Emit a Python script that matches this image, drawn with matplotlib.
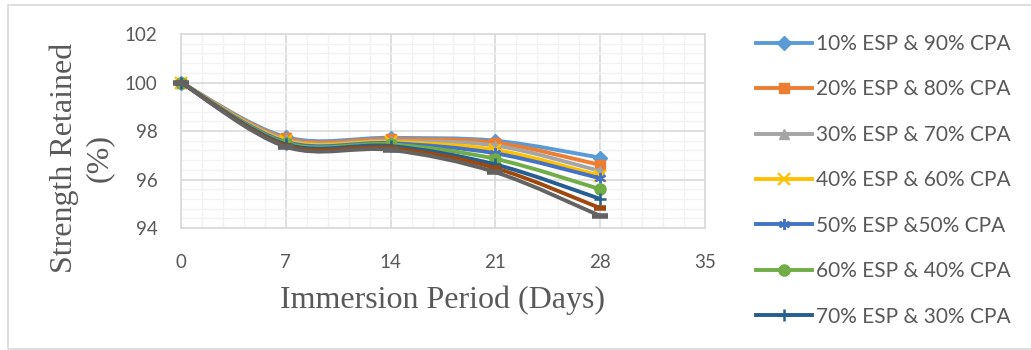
import numpy as np
import matplotlib
matplotlib.use("Agg")
import matplotlib.pyplot as plt
from matplotlib.path import Path
from matplotlib.patches import PathPatch, Rectangle
from matplotlib.lines import Line2D

# Data
days = [0, 7, 14, 21, 28]
labels = ["10% ESP & 90% CPA", "20% ESP & 80% CPA", "30% ESP & 70% CPA",
          "40% ESP & 60% CPA", "50% ESP &50% CPA", "60% ESP & 40% CPA",
          "70% ESP & 30% CPA", "80% ESP & 20% CPA", "90% ESP & 10% CPA"]
s10 = [100, 97.75, 97.72, 97.60, 96.90]
s20 = [100, 97.70, 97.67, 97.52, 96.60]
s30 = [100, 97.65, 97.60, 97.40, 96.35]
s40 = [100, 97.60, 97.55, 97.22, 96.15]
s50 = [100, 97.55, 97.50, 97.08, 96.05]
s60 = [100, 97.50, 97.45, 96.85, 95.60]
s70 = [100, 97.45, 97.38, 96.62, 95.20]
s80 = [100, 97.40, 97.30, 96.47, 94.82]
s90 = [100, 97.35, 97.22, 96.30, 94.50]
series = [s10, s20, s30, s40, s50, s60, s70, s80, s90]

colors = ["#5B9BD5", "#ED7D31", "#A5A5A5", "#FFC000", "#4472C4",
          "#70AD47", "#255E91", "#9E480E", "#636363"]
markers = ["D", "s", "^", "x", (6, 2, 0), "o", "+", "_", "_"]
msizes = [7, 7.5, 7.5, 8, 8, 8, 9, 9, 11]
mews = [1, 1, 1, 1.6, 1.4, 1, 1.8, 4, 4]

tick_font = "Lato"
title_font = "Liberation Serif"
grey = "#595959"


def smooth_path(x, y):
    # Excel style smoothed line: bezier segments through the points
    pts = np.column_stack([x, y]).astype(float)
    n = len(pts)
    verts = [pts[0]]
    codes = [Path.MOVETO]
    for i in range(n - 1):
        p0 = pts[i - 1] if i > 0 else pts[i]
        p1 = pts[i]
        p2 = pts[i + 1]
        p3 = pts[i + 2] if i + 2 < n else pts[i + 1]
        c1 = p1 + (p2 - p0) / 6
        c2 = p2 - (p3 - p1) / 6
        verts += [c1, c2, p2]
        codes += [Path.CURVE4] * 3
    return Path(verts, codes)


fig = plt.figure(figsize=(10.31, 3.5), dpi=100)
ax = fig.add_axes([181 / 1031, 1 - 228 / 350, 524 / 1031, 194 / 350])

# outer chart border
fig.patches.append(Rectangle((8 / 1031, 1 / 350), 1.1, 344 / 350, transform=fig.transFigure,
                             fill=False, edgecolor="#D9D9D9", lw=1.2, zorder=0))

handles = []
for i, vals in enumerate(series):
    z = 3 + i * 0.1
    patch = PathPatch(smooth_path(days, vals), fill=False, edgecolor=colors[i],
                      lw=2.8, capstyle="round", joinstyle="round", zorder=z)
    ax.add_patch(patch)
    ax.plot(days, vals, linestyle="none", marker=markers[i], markersize=msizes[i],
            color=colors[i], markeredgecolor=colors[i], markeredgewidth=mews[i],
            zorder=z + 0.05, clip_on=False)
    handles.append(Line2D([], [], color=colors[i], lw=2.8, marker=markers[i],
                          markersize=msizes[i], markeredgewidth=mews[i]))

ax.set_xlim(0, 35)
ax.set_ylim(94, 102)
ax.set_xticks(np.arange(0, 36, 7))
ax.set_yticks(np.arange(94, 103, 2))
ax.set_xticks(np.arange(0, 35.01, 1.4), minor=True)
ax.set_yticks(np.arange(94, 102.01, 0.4), minor=True)
ax.grid(which="minor", color="#F2F2F2", lw=1, zorder=0)
ax.grid(which="major", color="#D9D9D9", lw=1.2, zorder=0.5)
ax.tick_params(which="both", length=0)
ax.tick_params(axis="x", pad=19)
ax.tick_params(axis="y", pad=17)
for lab in ax.get_xticklabels() + ax.get_yticklabels():
    lab.set_fontfamily(tick_font)
    lab.set_fontsize(13.5)
    lab.set_color(grey)
for sp in ax.spines.values():
    sp.set_color("#D9D9D9")
    sp.set_linewidth(1.2)

ax.set_xlabel("Immersion Period (Days)", fontfamily=title_font, fontsize=23,
              color=grey, labelpad=10)
ax.set_ylabel("Strength Retained\n(%)", fontfamily=title_font, fontsize=23,
              color=grey, linespacing=1.25)
ax.yaxis.set_label_coords(-0.128, 0.36)

leg = fig.legend(handles[:7], labels[:7], loc="upper left",
                 bbox_to_anchor=(756 / 1031, 1 - 34 / 350), frameon=False,
                 prop={"family": tick_font, "size": 15}, labelcolor=grey,
                 handlelength=2.7, handletextpad=0.2, labelspacing=1.22,
                 borderpad=0, borderaxespad=0)

fig.savefig("out.png", dpi=100)
